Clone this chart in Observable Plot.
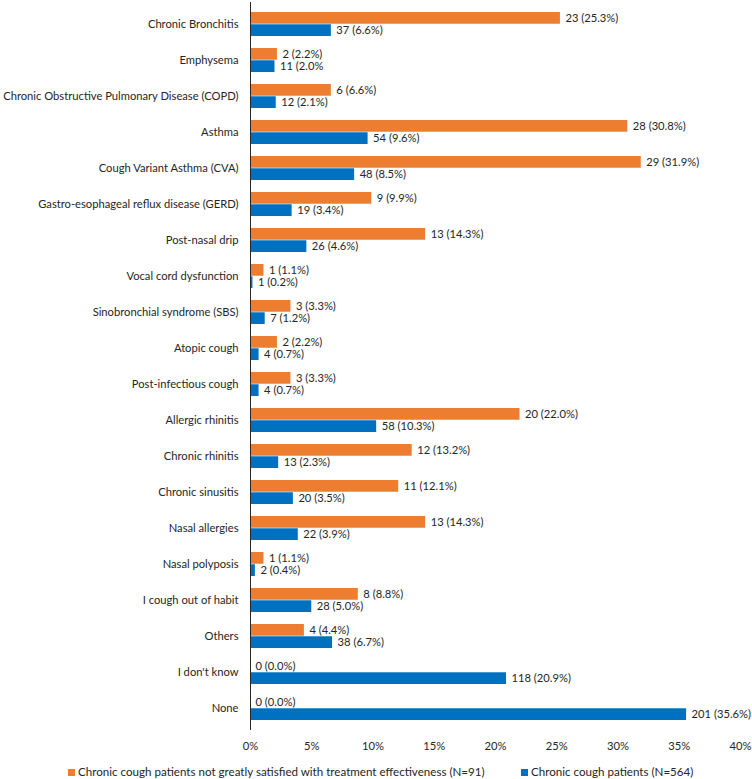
<!DOCTYPE html>
<html><head><meta charset="utf-8">
<script src="https://cdn.jsdelivr.net/npm/d3@7"></script>
<script src="https://cdn.jsdelivr.net/npm/@observablehq/plot@0.6"></script>
<style>
body{margin:0;background:#fff;font-family:Lato,"Open Sans",sans-serif;}
#chart svg{overflow:visible;display:block;}
#legend{height:19px;position:relative;font-size:11.6px;color:#262626;}
#legend .item{position:absolute;top:5px;white-space:nowrap;line-height:14px;}
#legend .sw{display:inline-block;width:7px;height:7px;margin-right:3px;vertical-align:0px;}
</style></head><body><div id="chart"></div><div id="legend"></div>
<script>
const categories = [
  "Chronic Bronchitis","Emphysema","Chronic Obstructive Pulmonary Disease (COPD)","Asthma",
  "Cough Variant Asthma (CVA)","Gastro-esophageal reflux disease (GERD)","Post-nasal drip",
  "Vocal cord dysfunction","Sinobronchial syndrome (SBS)","Atopic cough","Post-infectious cough",
  "Allergic rhinitis","Chronic rhinitis","Chronic sinusitis","Nasal allergies","Nasal polyposis",
  "I cough out of habit","Others","I don't know","None"
];
const seriesNames = [
  "Chronic cough patients not greatly satisfied with treatment effectiveness (N=91)",
  "Chronic cough patients (N=564)"
];
const notSatisfiedCounts = [23,2,6,28,29,9,13,1,3,2,3,20,12,11,13,1,8,4,0,0];
const notSatisfiedPct = [25.3,2.2,6.6,30.8,31.9,9.9,14.3,1.1,3.3,2.2,3.3,22.0,13.2,12.1,14.3,1.1,8.8,4.4,0.0,0.0];
const allCounts = [37,11,12,54,48,19,26,1,7,4,4,58,13,20,22,2,28,38,118,201];
const allPct = [6.6,2.0,2.1,9.6,8.5,3.4,4.6,0.2,1.2,0.7,0.7,10.3,2.3,3.5,3.9,0.4,5.0,6.7,20.9,35.6];
const xTicks = [0,5,10,15,20,25,30,35,40];
const colors = ["#ED7D31","#0070C0"];

const orange = categories.map((c,i)=>({cat:c, v:notSatisfiedPct[i], label:`${notSatisfiedCounts[i]} (${notSatisfiedPct[i].toFixed(1)}%)`}));
const blue = categories.map((c,i)=>({cat:c, v:allPct[i], label:`${allCounts[i]} (${allPct[i].toFixed(1)}%)`}));
blue[1].label = "11 (2.0%"; // as printed in the source

const inset = 12.27;
const chart = Plot.plot({
  width: 752, height: 760,
  marginLeft: 250, marginRight: 12, marginTop: 2, marginBottom: 30,
  style: {fontFamily: "Lato, 'Open Sans', sans-serif", fontSize: "11.2px", color: "#262626", background: "#fff"},
  x: {domain: [0,40], ticks: xTicks, tickFormat: d => d + "%", tickSize: 0, tickPadding: 12, label: null},
  y: {domain: categories, paddingInner: 0.33, paddingOuter: 0.1, tickSize: 0, tickPadding: 12, label: null},
  marks: [
    Plot.barX(orange, {y: "cat", x: "v", fill: colors[0], insetBottom: inset}),
    Plot.barX(blue, {y: "cat", x: "v", fill: colors[1], insetTop: inset}),
    Plot.text(orange, {y: "cat", x: "v", text: "label", dy: -6, dx: 5, textAnchor: "start", fill: "#262626", fontSize: 11.2}),
    Plot.text(blue, {y: "cat", x: "v", text: "label", dy: 6, dx: 5, textAnchor: "start", fill: "#262626", fontSize: 11.2}),
    Plot.ruleX([0], {stroke: "#262626", strokeWidth: 1})
  ]
});
document.getElementById("chart").appendChild(chart);

const legend = document.getElementById("legend");
const pos = [68, 521];
seriesNames.forEach((n,i)=>{
  const d = document.createElement("div");
  d.className = "item";
  d.style.left = pos[i] + "px";
  d.innerHTML = `<span class="sw" style="background:${colors[i]}"></span>${n}`;
  legend.appendChild(d);
});
</script></body></html>
